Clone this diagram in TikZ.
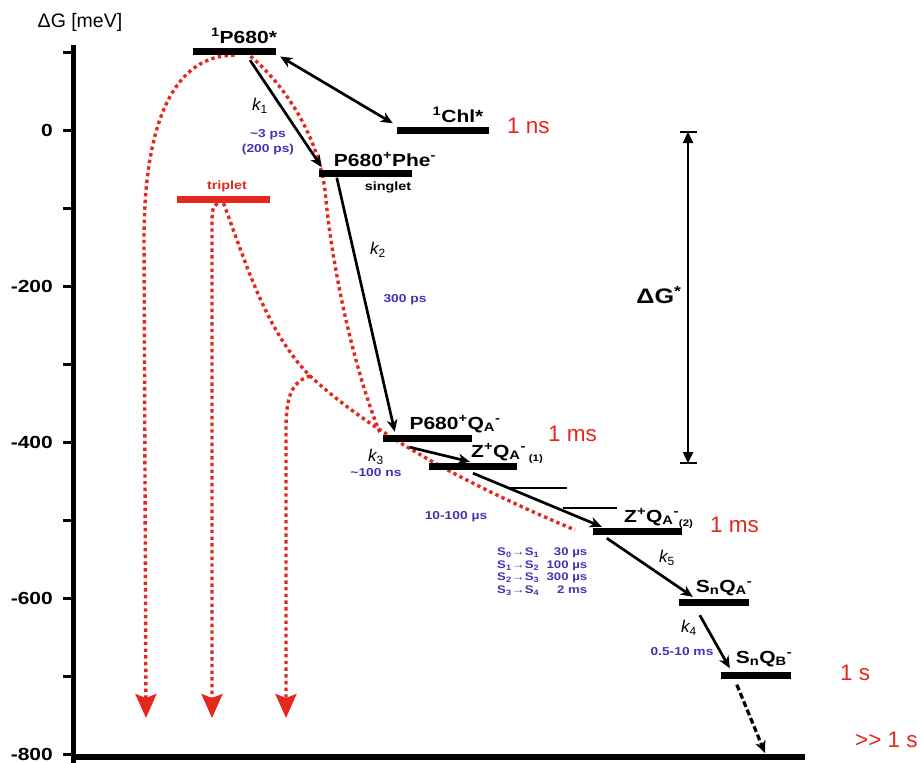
\documentclass[tikz,border=0pt]{standalone}
\usepackage{fontspec}
\setmainfont{Liberation Sans}[BoldFeatures={FakeStretch=1.2}]
\usetikzlibrary{arrows.meta,calc,positioning,backgrounds}
\definecolor{ratered}{RGB}{228,40,30}
\definecolor{rateblue}{RGB}{68,52,178}

\tikzset{
  lvl/.style={fill=black,inner sep=0pt,minimum height=7pt},
  lvllabel/.style={font=\fontsize{17.5}{20}\selectfont\bfseries,inner sep=0pt,anchor=base},
  ticklabel/.style={font=\fontsize{17.5}{20}\selectfont\bfseries,inner sep=0pt,anchor=east},
  ratelabel/.style={font=\fontsize{11.5}{13}\selectfont\bfseries,text=rateblue,inner sep=0pt},
  klabel/.style={font=\fontsize{17}{19}\selectfont\itshape,inner sep=0pt},
  lifetime/.style={font=\fontsize{22.5}{24}\selectfont,text=ratered,inner sep=0pt,anchor=west},
  transfer/.style={line width=2.7pt,-{Stealth[length=12pt,width=10.5pt,inset=3.5pt]}},
  dotline/.style={ratered,line width=3.4pt,dash pattern=on 3.4pt off 3.3pt},
  decay/.style={dotline,-{Stealth[length=24pt,width=21pt,inset=4pt]}},
}

\begin{document}
\begin{tikzpicture}[x=1pt,y=-1pt]
\useasboundingbox (0,0) rectangle (921,763);

%% energy axis
\draw[line width=5.5pt] (73.5,45) -- (73.5,763);
\foreach \v in {100,0,...,-800}
  \draw[line width=3pt] (63,{130-0.78*\v}) -- (73.5,{130-0.78*\v});
\foreach \v in {0,-200,-400,-600,-800}
  \node[ticklabel] (tick\v) at (53,{130-0.78*\v}) {\v};
\node[font=\fontsize{19.5}{21}\selectfont] (axtitle) at (80,22) {ΔG [meV]};
\draw[line width=6.5pt] (73.5,757) -- (805,757);
\coordinate (gnd) at (765,753);

%% levels
\node[lvl,minimum width=83pt] (p680) at (234.5,51.5) {};
\node[lvl,minimum width=92pt] (chl) at (443,130) {};
\node[lvl,minimum width=93pt] (phe) at (365.5,173) {};
\node[lvl,fill=ratered,minimum width=93pt] (trip) at (223.5,199.5) {};
\node[lvl,minimum width=89pt] (qa) at (427.5,438.5) {};
\node[lvl,minimum width=88pt] (zqa1) at (473,466.5) {};
\node[lvl,minimum width=89pt] (zqa2) at (637.5,531.5) {};
\node[lvl,minimum width=70pt] (sqa) at (714,602.5) {};
\node[lvl,minimum width=70pt] (sqb) at (756,675) {};
% intermediate steps
\draw[line width=2.5pt] (507,488) -- (567,488);
\draw[line width=2.5pt] (563,508) -- (617,508);

%% level labels
\node[lvllabel] (p680lab) at (244,43) {\textsuperscript{1}P680*};
\node[lvllabel] (chllab) at (458,122) {\textsuperscript{1}Chl*};
\node[lvllabel] (phelab) at (385,166) {P680\textsuperscript{+}Phe\textsuperscript{-}};
\node[lvllabel,font=\fontsize{12}{14}\selectfont\bfseries] (singlab) at (388,190) {singlet};
\node[lvllabel,font=\fontsize{12}{14}\selectfont\bfseries,text=ratered] (triplab) at (227,189) {triplet};
\node[lvllabel] (qalab) at (455,429) {P680\textsuperscript{+}Q\textsubscript{A}\textsuperscript{-}};
\node[lvllabel,anchor=base west] (zqa1lab) at (471,457) {Z\textsuperscript{+}Q\textsubscript{A}\textsuperscript{-}\,\raisebox{-4pt}{\fontsize{9.5}{10}\selectfont(1)}};
\node[lvllabel,anchor=base west] (zqa2lab) at (624,522) {Z\textsuperscript{+}Q\textsubscript{A}\textsuperscript{-}\raisebox{-4pt}{\fontsize{9.5}{10}\selectfont(2)}};
\node[lvllabel] (sqalab) at (724,592) {S\textsubscript{n}Q\textsubscript{A}\textsuperscript{-}};
\node[lvllabel] (sqblab) at (764,663) {S\textsubscript{n}Q\textsubscript{B}\textsuperscript{-}};

%% lifetimes
\node[lifetime] (tchl) at (507,126) {1 ns};
\node[lifetime] (tqa) at (548,434) {1 ms};
\node[lifetime] (tzqa) at (710,525) {1 ms};
\node[lifetime] (tsqb) at (840,673) {1 s};
\node[lifetime] (tgnd) at (855,740) {\mbox{>}\mbox{>} 1 s};

%% forward transfer
\draw[transfer,{Stealth[length=12pt,width=10.5pt,inset=3.5pt]}-{Stealth[length=12pt,width=10.5pt,inset=3.5pt]}]
  ($(p680.east)+(4,5)$) -- ($(chl.north west)+(-4,-3)$);
\draw[transfer] ($(p680.south)+(15.5,5)$) -- ($(phe.north west)+(3,-2)$);
\draw[transfer] ($(phe.south west)+(18,1)$) -- ($(qa.north west)+(12,-3)$);
\draw[transfer] ($(qa.south west)+(27,5)$) -- ($(zqa1.north)+(-3,-1)$);
\draw[transfer] ($(zqa1.south)+(0,3)$) -- ($(zqa2.north west)+(9,-1)$);
\draw[transfer] ($(zqa2.south west)+(14,3)$) -- ($(sqa.north west)+(14,-2)$);
\draw[transfer] ($(sqa.south west)+(21,9)$) -- ($(sqb.north west)+(9,-3)$);
\draw[transfer,line width=3.2pt,dash pattern=on 6pt off 3pt] ($(sqb.south west)+(16,6)$) -- (gnd);

%% rate labels
\node[klabel] (k1) at (260,106) {k\textsubscript{\upshape 1}};
\node[ratelabel] (r1) at (268,135) {\textasciitilde3 ps};
\node[ratelabel] (r1b) at (268,150) {(200 ps)};
\node[klabel] (k2) at (378,250) {k\textsubscript{\upshape 2}};
\node[ratelabel] (r2) at (405,300) {300 ps};
\node[klabel] (k3) at (376,457) {k\textsubscript{\upshape 3}};
\node[ratelabel] (r3) at (376,473) {\textasciitilde100 ns};
\node[ratelabel] (r4) at (456,517) {10-100 µs};
\node[klabel] (k5) at (667,558) {k\textsubscript{\upshape 5}};
\node[klabel] (k4) at (689,628) {k\textsubscript{\upshape 4}};
\node[ratelabel] (r5) at (682,652) {0.5-10 ms};
\node[ratelabel,font=\fontsize{11}{12.5}\selectfont\bfseries,anchor=north west] (sstates) at (497,547)
  {\begin{tabular}{@{}l@{\ \ }r@{}}
   S\textsubscript{0}→S\textsubscript{1} & 30 µs\\
   S\textsubscript{1}→S\textsubscript{2} & 100 µs\\
   S\textsubscript{2}→S\textsubscript{3} & 300 µs\\
   S\textsubscript{3}→S\textsubscript{4} & 2 ms
   \end{tabular}};

%% driving force
\coordinate (dgtop) at (688,132);
\coordinate (dgbot) at (688,463);
\draw[line width=2.4pt,{Triangle[length=11pt,width=10pt]}-{Triangle[length=11pt,width=10pt]}] (dgtop) -- (dgbot);
\draw[line width=2.5pt] ([xshift=-8.5pt]dgtop) -- ([xshift=8.5pt]dgtop);
\draw[line width=2.5pt] ([xshift=-8.5pt]dgbot) -- ([xshift=8.5pt]dgbot);
\node[font=\fontsize{21}{24}\selectfont\bfseries] (dglab) at (659,295) {ΔG\textsuperscript{*}};

%% recombination paths
\begin{scope}[on background layer]
  \draw[decay] (p680.south) .. controls (175,55) and (144,120) .. (144,240) -- (146,718);
  \draw[dotline] ($(p680.south)+(16,1)$) .. controls (290,90) and (318,140) .. (325,190)
    .. controls (333,280) and (358,380) .. (380,433);
  \draw[dotline] (trip.south) .. controls (245,260) and (265,330) .. (310,376)
    .. controls (380,440) and (480,490) .. (575,530);
  \coordinate (branch) at (310,376);
  \draw[decay] ($(trip.south)+(-6,0)$) .. controls (212,208) .. (212,235) -- (212,718);
  \draw[decay] (branch) .. controls (290,382) and (286,400) .. (286,430) -- (286,718);
\end{scope}

\end{tikzpicture}
\end{document}
